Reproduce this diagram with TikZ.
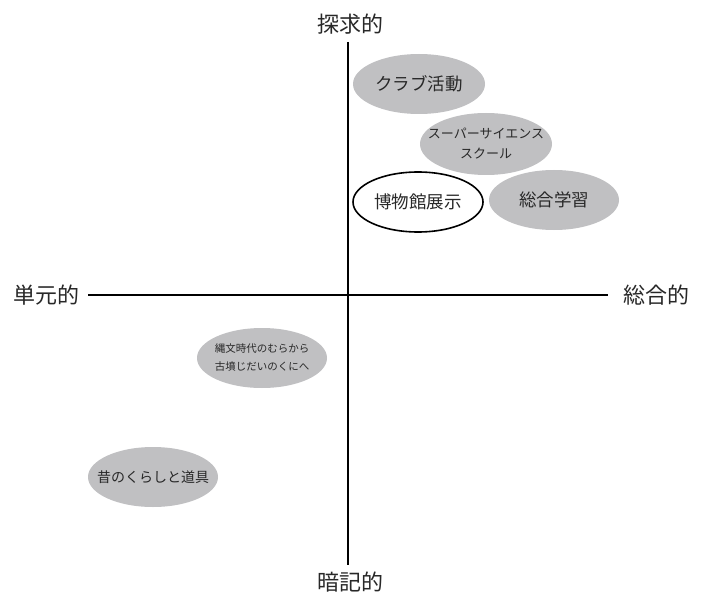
\documentclass[tikz,border=0pt]{standalone}
\usepackage{fontspec}
\setmainfont{Noto Sans CJK JP}
\usetikzlibrary{shapes.geometric}
\definecolor{bub}{RGB}{192,192,194}
\definecolor{txt}{RGB}{40,40,40}
\begin{document}
\begin{tikzpicture}[x=1pt,y=-1pt,
  axislab/.style={font=\fontsize{22}{26}\selectfont, text=txt, inner sep=0pt},
  bubble/.style={ellipse, fill=bub, inner sep=0pt, minimum width=132pt, minimum height=60pt},
  btext/.style={text=txt, align=center, inner sep=0pt},
  axisline/.style={line width=1.6pt, black}]
\useasboundingbox (0,0) rectangle (701,596);
\fill[white] (0,0) rectangle (701,596);
\node[axislab] (top) at (350,24) {探求的};
\node[axislab] (bottom) at (350,582) {暗記的};
\node[axislab] (left) at (46,295) {単元的};
\node[axislab] (right) at (656,295) {総合的};
\coordinate (vt) at (348,42);
\coordinate (vb) at (348,565);
\coordinate (hl) at (88,295);
\coordinate (hr) at (608,295);
\draw[axisline] (vt) -- (vb);
\draw[axisline] (hl) -- (hr);
\node[bubble, label={[btext, font=\fontsize{17.5}{20}\selectfont]center:クラブ活動}] (club) at (419,84) {};
\node[bubble, minimum height=62pt, label={[btext, font=\fontsize{13}{20}\selectfont]center:{スーパーサイエンス\\スクール}}] (ssh) at (486,144) {};
\node[bubble, fill=white, draw=black, line width=1.6pt, minimum width=130pt, label={[btext, font=\fontsize{17.5}{20}\selectfont]center:博物館展示}] (museum) at (418,202) {};
\node[bubble, minimum width=130pt, label={[btext, font=\fontsize{17.5}{20}\selectfont]center:総合学習}] (sogo) at (554,200) {};
\node[bubble, minimum width=130pt, label={[btext, font=\fontsize{10.5}{18}\selectfont]center:{縄文時代のむらから\\古墳じだいのくにへ}}] (jomon) at (262,358) {};
\node[bubble, minimum width=130pt, label={[btext, font=\fontsize{14}{18}\selectfont]center:昔のくらしと道具}] (mukashi) at (153,477) {};
\end{tikzpicture}
\end{document}
